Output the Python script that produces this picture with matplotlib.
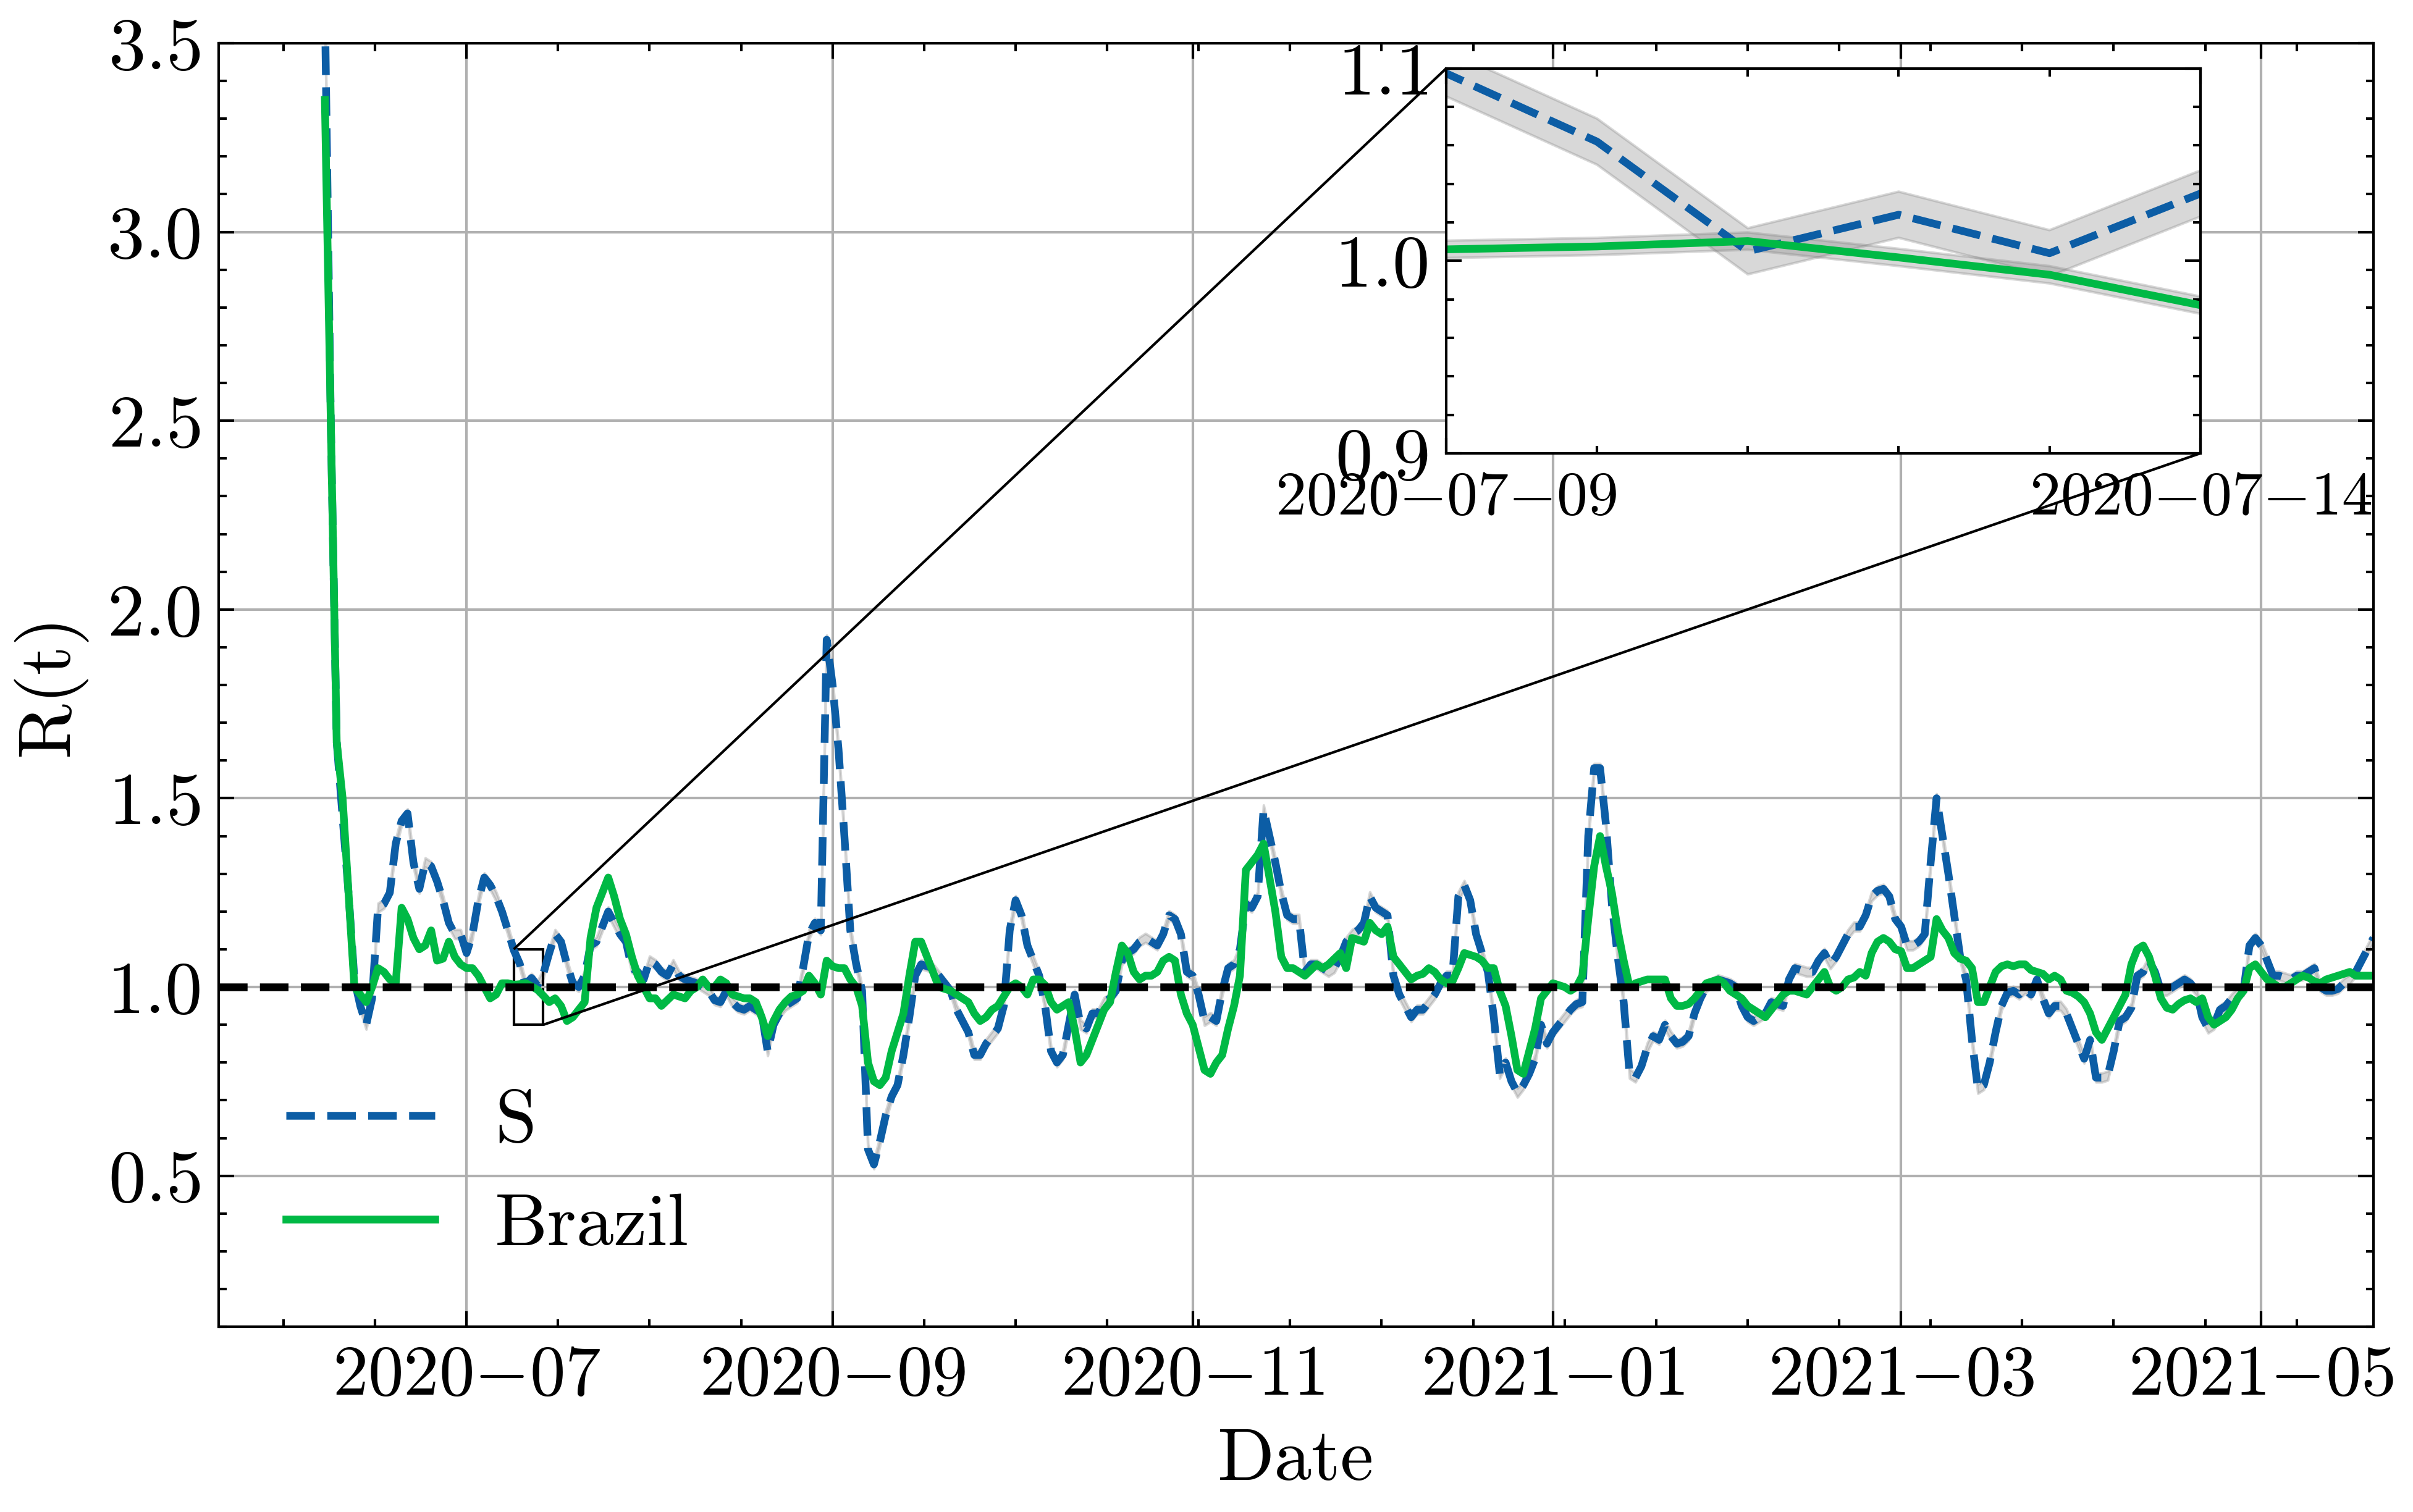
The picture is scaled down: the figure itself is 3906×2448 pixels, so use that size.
import numpy as np
import pandas as pd
import matplotlib
matplotlib.use("Agg")
import matplotlib.pyplot as plt
import matplotlib.dates as mdates
from matplotlib.ticker import MultipleLocator, AutoMinorLocator, FuncFormatter, FixedLocator
from mpl_toolkits.axes_grid1.inset_locator import mark_inset

# daily R(t) estimates, first day 2020-06-07
start_date = "2020-06-07"

s_rt = [
    3.60, 2.50, 1.65, 1.45, 1.25, 1.02, 0.95, 0.90, 0.97, 1.21,
    1.22, 1.25, 1.38, 1.44, 1.46, 1.33, 1.26, 1.33, 1.32, 1.28,
    1.23, 1.17, 1.14, 1.14, 1.09, 1.14, 1.23, 1.29, 1.27, 1.24,
    1.20, 1.15, 1.0975, 1.062, 1.005, 1.024, 1.004, 1.035, 1.09, 1.14,
    1.12, 1.06, 1.01, 1.00, 1.03, 1.11, 1.12, 1.16, 1.20, 1.17,
    1.14, 1.12, 1.05, 1.04, 1.02, 1.07, 1.06, 1.04, 1.03, 1.06,
    1.03, 1.02, 1.015, 1.01, 1.00, 0.99, 0.965, 0.96, 0.99, 0.96,
    0.945, 0.94, 0.95, 0.94, 0.93, 0.83, 0.90, 0.93, 0.95, 0.96,
    0.97, 1.05, 1.14, 1.17, 1.15, 1.92, 1.80, 1.63, 1.40, 1.15,
    1.06, 0.99, 0.57, 0.53, 0.59, 0.66, 0.71, 0.74, 0.82, 0.92,
    1.03, 1.06, 1.055, 1.05, 1.03, 1.01, 0.99, 0.94, 0.91, 0.88,
    0.82, 0.82, 0.85, 0.87, 0.89, 0.95, 1.15, 1.23, 1.19, 1.11,
    1.07, 1.03, 0.95, 0.83, 0.80, 0.82, 0.90, 0.98, 0.90, 0.89,
    0.93, 0.93, 0.96, 0.97, 0.99, 1.07, 1.09, 1.10, 1.12, 1.13,
    1.12, 1.11, 1.14, 1.19, 1.18, 1.14, 1.04, 1.03, 0.98, 0.91,
    0.92, 0.91, 0.99, 1.05, 1.06, 1.10, 1.22, 1.21, 1.24, 1.47,
    1.40, 1.33, 1.25, 1.19, 1.18, 1.18, 1.04, 1.06, 1.06, 1.05,
    1.04, 1.05, 1.08, 1.12, 1.14, 1.15, 1.17, 1.24, 1.21, 1.20,
    1.19, 1.03, 0.98, 0.95, 0.92, 0.94, 0.94, 0.96, 0.98, 1.01,
    1.03, 1.03, 1.24, 1.27, 1.23, 1.14, 1.09, 1.04, 0.92, 0.77,
    0.80, 0.75, 0.72, 0.74, 0.77, 0.81, 0.90, 0.85, 0.88, 0.90,
    0.92, 0.94, 0.955, 0.96, 1.40, 1.58, 1.58, 1.43, 1.22, 1.08,
    0.96, 0.77, 0.76, 0.79, 0.84, 0.87, 0.86, 0.90, 0.87, 0.85,
    0.855, 0.87, 0.93, 0.97, 1.00, 1.01, 1.02, 1.015, 1.01, 1.00,
    0.95, 0.92, 0.91, 0.92, 0.93, 0.96, 0.955, 0.95, 1.02, 1.05,
    1.045, 1.04, 1.04, 1.07, 1.09, 1.06, 1.08, 1.11, 1.14, 1.16,
    1.16, 1.19, 1.24, 1.255, 1.26, 1.24, 1.18, 1.16, 1.11, 1.11,
    1.12, 1.14, 1.33, 1.50, 1.40, 1.30, 1.19, 1.08, 1.02, 0.86,
    0.73, 0.74, 0.80, 0.88, 0.95, 0.985, 0.99, 0.98, 0.995, 0.98,
    1.02, 0.97, 0.93, 0.95, 0.95, 0.93, 0.89, 0.85, 0.81, 0.86,
    0.76, 0.76, 0.765, 0.83, 0.91, 0.92, 0.945, 1.03, 1.04, 1.07,
    1.04, 0.99, 0.99, 1.00, 1.01, 1.02, 1.01, 0.99, 0.92, 0.89,
    0.90, 0.94, 0.95, 0.97, 0.985, 0.99, 1.11, 1.13, 1.11, 1.07,
    1.03, 1.03, 1.025, 1.02, 1.03, 1.03, 1.04, 1.05, 1.00, 0.99,
    0.99, 0.995, 1.01, 1.02, 1.04, 1.07, 1.10, 1.13,
]

brazil_rt = [
    3.35, 2.50, 1.65, 1.50, 1.25, 1.00, 0.98, 0.96, 1.00, 1.05,
    1.04, 1.02, 1.01, 1.21, 1.18, 1.13, 1.10, 1.11, 1.15, 1.07,
    1.075, 1.12, 1.08, 1.06, 1.05, 1.05, 1.03, 1.00, 0.97, 0.98,
    1.01, 1.01, 1.006, 1.0075, 1.0103, 1.0018, 0.9928, 0.977, 0.96, 0.97,
    0.95, 0.91, 0.92, 0.94, 0.96, 1.13, 1.21, 1.25, 1.29, 1.24,
    1.18, 1.14, 1.08, 1.03, 1.00, 0.97, 0.97, 0.95, 0.965, 0.98,
    0.975, 0.97, 0.99, 1.00, 1.02, 1.00, 1.00, 1.02, 1.01, 0.98,
    0.975, 0.97, 0.97, 0.96, 0.92, 0.87, 0.91, 0.94, 0.96, 0.975,
    0.98, 0.99, 1.03, 1.01, 0.98, 1.07, 1.055, 1.05, 1.05, 1.02,
    1.00, 0.95, 0.80, 0.75, 0.74, 0.76, 0.83, 0.88, 0.93, 1.03,
    1.12, 1.12, 1.08, 1.04, 1.00, 0.995, 0.99, 0.98, 0.97, 0.96,
    0.93, 0.91, 0.92, 0.94, 0.95, 0.975, 1.00, 1.01, 1.00, 0.98,
    1.02, 1.02, 1.005, 0.96, 0.94, 0.95, 0.96, 0.89, 0.80, 0.82,
    0.86, 0.90, 0.94, 0.96, 1.04, 1.11, 1.09, 1.04, 1.02, 1.03,
    1.03, 1.04, 1.07, 1.08, 1.07, 0.98, 0.93, 0.90, 0.84, 0.78,
    0.77, 0.80, 0.82, 0.89, 0.95, 1.03, 1.31, 1.33, 1.35, 1.38,
    1.29, 1.20, 1.08, 1.05, 1.05, 1.04, 1.03, 1.045, 1.06, 1.05,
    1.06, 1.075, 1.09, 1.05, 1.13, 1.125, 1.12, 1.17, 1.15, 1.14,
    1.16, 1.08, 1.06, 1.04, 1.02, 1.03, 1.035, 1.05, 1.04, 1.02,
    1.01, 1.015, 1.05, 1.09, 1.085, 1.08, 1.07, 1.05, 1.05, 0.99,
    0.95, 0.87, 0.78, 0.77, 0.83, 0.89, 0.97, 0.99, 1.01, 1.005,
    1.00, 0.99, 1.00, 1.03, 1.18, 1.32, 1.40, 1.32, 1.25, 1.15,
    1.07, 1.00, 1.01, 1.015, 1.02, 1.02, 1.02, 1.02, 0.97, 0.95,
    0.95, 0.955, 0.97, 0.99, 1.01, 1.015, 1.02, 1.01, 0.99, 0.98,
    0.97, 0.95, 0.94, 0.93, 0.92, 0.94, 0.96, 0.98, 0.99, 0.99,
    0.985, 0.98, 1.00, 1.02, 1.04, 1.00, 0.99, 1.00, 1.02, 1.025,
    1.04, 1.03, 1.09, 1.12, 1.13, 1.12, 1.10, 1.095, 1.05, 1.05,
    1.06, 1.07, 1.08, 1.18, 1.15, 1.13, 1.09, 1.075, 1.07, 1.05,
    0.96, 0.96, 1.00, 1.04, 1.055, 1.06, 1.055, 1.06, 1.06, 1.045,
    1.04, 1.035, 1.02, 1.03, 1.02, 0.99, 0.985, 0.975, 0.96, 0.93,
    0.88, 0.86, 0.89, 0.92, 0.95, 0.98, 1.06, 1.10, 1.11, 1.08,
    1.03, 0.97, 0.945, 0.94, 0.955, 0.965, 0.97, 0.96, 0.97, 0.92,
    0.90, 0.91, 0.92, 0.94, 0.97, 0.99, 1.05, 1.06, 1.04, 1.02,
    1.01, 1.00, 1.00, 1.01, 1.02, 1.03, 1.025, 1.015, 1.01, 1.02,
    1.025, 1.03, 1.035, 1.04, 1.03, 1.03, 1.03, 1.03,
]

# half width of the credible band
s_err = 0.012
brazil_err = 0.0045

series_labels = ["S", "Brazil"]
zoom_dates = ("2020-07-09", "2020-07-14")
zoom_ylim = (0.9, 1.1)

plt.rcParams.update({
    "font.family": ["cmr10", "DejaVu Serif"],
    "mathtext.fontset": "cm",
    "axes.formatter.use_mathtext": True,
    "font.size": 14.5,
    "axes.linewidth": 0.5,
    "xtick.direction": "in",
    "ytick.direction": "in",
    "xtick.top": True,
    "ytick.right": True,
    "xtick.major.size": 3,
    "xtick.minor.size": 1.5,
    "ytick.major.size": 3,
    "ytick.minor.size": 1.5,
    "xtick.major.width": 0.5,
    "xtick.minor.width": 0.5,
    "ytick.major.width": 0.5,
    "ytick.minor.width": 0.5,
    "grid.linewidth": 0.5,
    "grid.color": "#b0b0b0",
    "lines.linewidth": 1.5,
})

dates = pd.date_range(start_date, periods=len(s_rt), freq="D").to_pydatetime()
s_rt = np.array(s_rt)
brazil_rt = np.array(brazil_rt)

blue = "#0C5DA5"
green = "#00B945"


def draw_series(a):
    a.fill_between(dates, s_rt - s_err, s_rt + s_err, color="gray", alpha=0.3, lw=0.5)
    l1, = a.plot(dates, s_rt, "--", color=blue, label=series_labels[0])
    a.fill_between(dates, brazil_rt - brazil_err, brazil_rt + brazil_err, color="gray", alpha=0.3, lw=0.5)
    l2, = a.plot(dates, brazil_rt, "-", color=green, label=series_labels[1])
    return l1, l2


def math_date(fmt):
    # minus signs between the date parts, without operator spacing
    def f(v, pos):
        s = mdates.num2date(v).strftime(fmt).replace("-", "{-}")
        return r"$\mathrm{%s}$" % s
    return FuncFormatter(f)


fig = plt.figure(figsize=(6.51, 4.08), dpi=600)
ax = fig.add_axes([0.0906, 0.1225, 0.8930, 0.8489])

draw_series(ax)
ax.axhline(1.0, color="k", ls="--", lw=1.5)

ax.set_xlim(pd.Timestamp("2020-05-20"), pd.Timestamp("2021-05-20"))
ax.set_ylim(0.1, 3.5)
ax.xaxis.set_major_locator(mdates.MonthLocator(bymonth=[1, 3, 5, 7, 9, 11]))
ax.xaxis.set_major_formatter(math_date("%Y-%m"))
ax.xaxis.set_minor_locator(AutoMinorLocator())
ax.yaxis.set_major_locator(MultipleLocator(0.5))
ax.yaxis.set_minor_locator(MultipleLocator(0.1))
ax.tick_params(axis="x", labelsize=13.8)
ax.grid(True, which="major")
ax.set_xlabel("Date")
ax.set_ylabel("R(t)")
ax.legend(loc="lower left", frameon=False)

# zoomed inset
axins = fig.add_axes([0.5993, 0.7002, 0.3126, 0.2545])
draw_series(axins)
z0, z1 = pd.Timestamp(zoom_dates[0]), pd.Timestamp(zoom_dates[1])
axins.set_xlim(z0, z1)
axins.set_ylim(*zoom_ylim)
axins.xaxis.set_major_locator(FixedLocator(mdates.date2num([z0, z1])))
axins.xaxis.set_minor_locator(mdates.DayLocator())
axins.xaxis.set_major_formatter(math_date("%Y-%m-%d"))
axins.yaxis.set_major_locator(MultipleLocator(0.1))
axins.yaxis.set_minor_locator(MultipleLocator(0.02))
axins.tick_params(axis="x", labelsize=12)
mark_inset(ax, axins, loc1=2, loc2=4, fc="none", ec="k", lw=0.5)

fig.savefig("out.png", dpi=600)
